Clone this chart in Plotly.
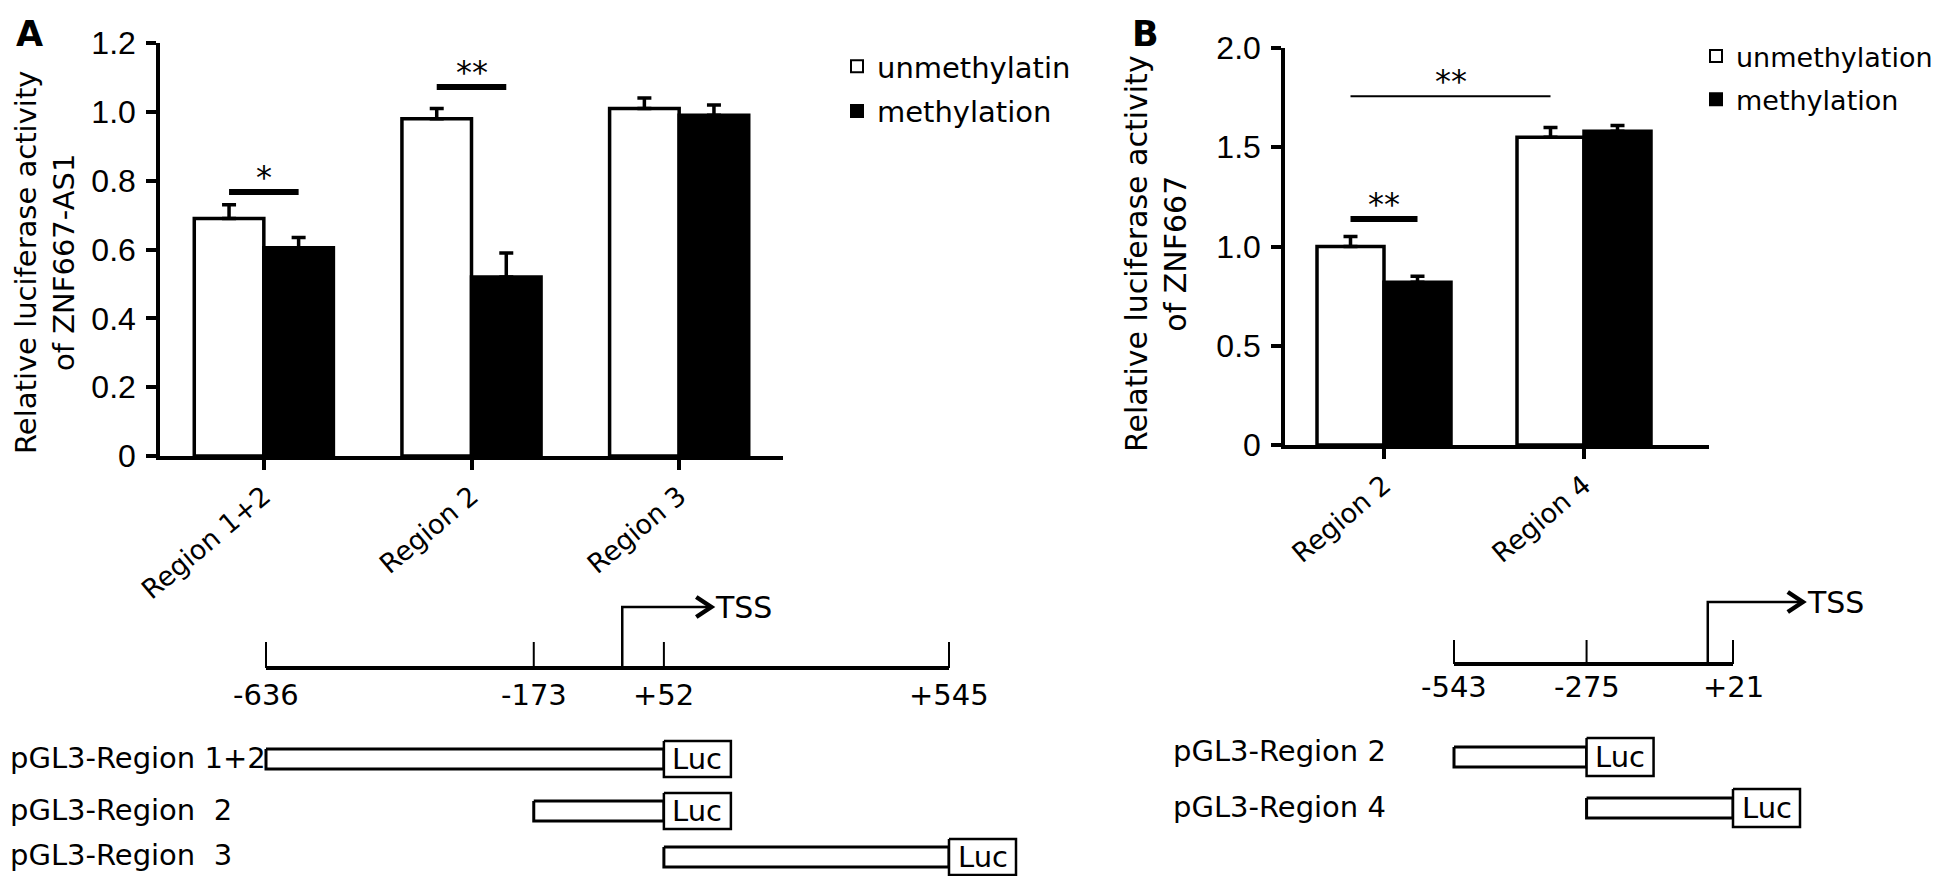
import plotly.graph_objects as go

W, H = 1946, 876

# ---------------- data: panel A (ZNF667-AS1) ----------------
categories_a = ["Region 1+2", "Region 2", "Region 3"]
unmeth_a = [0.69, 0.98, 1.01]
unmeth_a_err = [0.04, 0.03, 0.03]
meth_a = [0.605, 0.52, 0.99]
meth_a_err = [0.03, 0.07, 0.03]
yticks_a = [0, 0.2, 0.4, 0.6, 0.8, 1.0, 1.2]
yticktext_a = ["0", "0.2", "0.4", "0.6", "0.8", "1.0", "1.2"]
# significance brackets: (category, series) -> (category, series)
sig_a_from_cat = [0, 1]
sig_a_from_series = ["u", "u"]
sig_a_to_cat = [0, 1]
sig_a_to_series = ["m", "m"]
sig_a_level = [0.767, 1.072]
sig_a_text = ["*", "**"]

# ---------------- data: panel B (ZNF667) ----------------
categories_b = ["Region 2", "Region 4"]
unmeth_b = [1.0, 1.55]
unmeth_b_err = [0.05, 0.05]
meth_b = [0.82, 1.58]
meth_b_err = [0.03, 0.03]
yticks_b = [0, 0.5, 1.0, 1.5, 2.0]
yticktext_b = ["0", "0.5", "1.0", "1.5", "2.0"]
sig_b_from_cat = [0, 0]
sig_b_from_series = ["u", "u"]
sig_b_to_cat = [0, 1]
sig_b_to_series = ["m", "u"]
sig_b_level = [1.138, 1.757]
sig_b_text = ["**", "**"]

# ---------------- data: promoter diagrams (bp relative to TSS) ----------------
marks_a = [-636, -173, 52, 545]
tss_a = -20
constructs_a_names = ["pGL3-Region 1+2", "pGL3-Region\u00a0 2", "pGL3-Region\u00a0 3"]
constructs_a_start = [-636, -173, 52]
constructs_a_end = [52, 52, 545]

marks_b = [-543, -275, 21]
tss_b = -30
constructs_b_names = ["pGL3-Region 2", "pGL3-Region 4"]
constructs_b_start = [-543, -275]
constructs_b_end = [-275, 21]

# ---------------- styles / layout constants ----------------
FONT = "DejaVu Sans, Verdana, sans-serif"
NUMFONT = "Liberation Sans, Arial, sans-serif"
BLACK = "black"
AXW = 3.5
BARGAP = 0.33
BW = (1 - BARGAP) / 2  # width of one bar in category units


def px(x):
    return x / W


def py(y):
    return 1 - y / H


fig = go.Figure()


def add_bars(xa, ya, cats, u, ue, m, me, names, legend):
    xs = list(range(len(cats)))
    fig.add_trace(go.Bar(
        x=xs, y=u, name=names[0], xaxis=xa, yaxis=ya, legend=legend,
        legendgroup=legend + "u",
        marker=dict(color="white", line=dict(color=BLACK, width=AXW)),
        error_y=dict(type="data", array=ue, arrayminus=[0] * len(u), symmetric=False,
                     color=BLACK, thickness=AXW, width=7),
        hoverinfo="skip"))
    fig.add_trace(go.Bar(
        x=xs, y=m, name=names[1], xaxis=xa, yaxis=ya, legend=legend,
        legendgroup=legend + "m",
        marker=dict(color=BLACK, line=dict(color=BLACK, width=AXW)),
        error_y=dict(type="data", array=me, arrayminus=[0] * len(m), symmetric=False,
                     color=BLACK, thickness=AXW, width=7),
        hoverinfo="skip"))


def bar_center(cat, series):
    return cat - BW / 2 if series == "u" else cat + BW / 2


def add_sig(xa, ya, fc, fs, tc, ts, lev, txt, widths):
    for i in range(len(lev)):
        x0 = bar_center(fc[i], fs[i])
        x1 = bar_center(tc[i], ts[i])
        fig.add_trace(go.Scatter(
            x=[x0, x1], y=[lev[i], lev[i]], mode="lines", xaxis=xa, yaxis=ya,
            line=dict(color=BLACK, width=widths[i]), showlegend=False, hoverinfo="skip"))
        fig.add_annotation(x=(x0 + x1) / 2, y=lev[i], xref=xa, yref=ya, text=txt[i],
                           showarrow=False, xanchor="center", yanchor="bottom", yshift=-6,
                           font=dict(family=FONT, size=32, color=BLACK))


add_bars("x", "y", categories_a, unmeth_a, unmeth_a_err, meth_a, meth_a_err,
         ["unmethylatin", "methylation"], "legend")
add_bars("x2", "y2", categories_b, unmeth_b, unmeth_b_err, meth_b, meth_b_err,
         ["unmethylation", "methylation"], "legend2")
add_sig("x", "y", sig_a_from_cat, sig_a_from_series, sig_a_to_cat, sig_a_to_series,
        sig_a_level, sig_a_text, [6, 6])
add_sig("x2", "y2", sig_b_from_cat, sig_b_from_series, sig_b_to_cat, sig_b_to_series,
        sig_b_level, sig_b_text, [6, 2])

axis_common = dict(showline=True, linecolor=BLACK, linewidth=AXW, ticks="outside",
                   ticklen=10, tickwidth=AXW, tickcolor=BLACK, showgrid=False,
                   zeroline=False, mirror=False, automargin=False)

fig.update_layout(
    xaxis=dict(domain=[px(152), px(775)], range=[-0.5, 2.5], anchor="y",
               tickvals=list(range(len(categories_a))), ticktext=categories_a,
               tickangle=-40, tickfont=dict(family=FONT, size=27, color=BLACK),
               **axis_common),
    yaxis=dict(domain=[py(448), py(35)], range=[0, 1.2], anchor="x",
               tickvals=yticks_a, ticktext=yticktext_a, ticklabelstandoff=4,
               tickfont=dict(family=NUMFONT, size=32, color=BLACK), **axis_common),
    xaxis2=dict(domain=[px(1277), px(1701)], range=[-0.495, 1.625], anchor="y2",
                tickvals=list(range(len(categories_b))), ticktext=categories_b,
                tickangle=-40, tickfont=dict(family=FONT, size=27, color=BLACK),
                **axis_common),
    yaxis2=dict(domain=[py(437), py(40)], range=[0, 2.0], anchor="x2",
                tickvals=yticks_b, ticktext=yticktext_b, ticklabelstandoff=4,
                tickfont=dict(family=NUMFONT, size=32, color=BLACK), **axis_common),
)

# ---------------- promoter diagrams ----------------
# pixel anchors of first/last mark define the bp scale of each diagram
A_PX0, A_PX1 = 258, 941
B_PX0, B_PX1 = 1446, 1725
a_scale = (A_PX1 - A_PX0) / (marks_a[-1] - marks_a[0])
b_scale = (B_PX1 - B_PX0) / (marks_b[-1] - marks_b[0])
a_range = [marks_a[0] - A_PX0 / a_scale, marks_a[0] + (W - A_PX0) / a_scale]
b_range = [marks_b[0] - B_PX0 / b_scale, marks_b[0] + (W - B_PX0) / b_scale]

hidden = dict(visible=False, showgrid=False, zeroline=False, fixedrange=True, automargin=False)
fig.update_layout(
    xaxis3=dict(domain=[0, 1], range=a_range, anchor="y3", **hidden),
    xaxis4=dict(domain=[0, 1], range=b_range, anchor="y3", **hidden),
    yaxis3=dict(domain=[0, 1], range=[H, 0], anchor="x3", **hidden),
)

LUC_W_PX = 67


def draw_diagram(xa, scale, marks, tss, line_y, tick_h, tss_y, arrow_px, label_y,
                 names, starts, ends, rows_y, bar_half, luc_half, name_x_px, names_y):
    kw = dict(xaxis=xa, yaxis="y3", showlegend=False, hoverinfo="skip")
    # main line
    fig.add_trace(go.Scatter(x=[marks[0], marks[-1]], y=[line_y, line_y], mode="lines",
                             line=dict(color=BLACK, width=4), **kw))
    # mark ticks
    tx, ty = [], []
    for m in marks:
        tx += [m, m, None]
        ty += [line_y, line_y - tick_h, None]
    fig.add_trace(go.Scatter(x=tx, y=ty, mode="lines", line=dict(color=BLACK, width=2), **kw))
    for m in marks:
        fig.add_annotation(x=m, y=label_y, xref=xa, yref="y3", text=f"{m:+d}",
                           showarrow=False, xanchor="center", yanchor="middle",
                           font=dict(family=FONT, size=29, color=BLACK))
    # TSS arrow
    tip = tss + arrow_px / scale
    fig.add_trace(go.Scatter(x=[tss, tss, tip], y=[line_y, tss_y, tss_y], mode="lines",
                             line=dict(color=BLACK, width=2.5), **kw))
    back = 15 / scale
    fig.add_trace(go.Scatter(x=[tip - back, tip, tip - back], y=[tss_y - 10, tss_y, tss_y + 10],
                             mode="lines", line=dict(color=BLACK, width=4.5), **kw))
    fig.add_annotation(x=tip, y=tss_y, xref=xa, yref="y3", text="TSS", showarrow=False,
                       xanchor="left", yanchor="middle", xshift=2,
                       font=dict(family=FONT, size=30, color=BLACK))
    # constructs
    bx, by, lx, ly = [], [], [], []
    luc_w = LUC_W_PX / scale
    for s, e, y in zip(starts, ends, rows_y):
        bx += [s, e, e, s, s, None]
        by += [y - bar_half, y - bar_half, y + bar_half, y + bar_half, y - bar_half, None]
        lx += [e, e + luc_w, e + luc_w, e, e, None]
        ly += [y - luc_half, y - luc_half, y + luc_half, y + luc_half, y - luc_half, None]
        fig.add_annotation(x=e + luc_w / 2, y=y, xref=xa, yref="y3", text="Luc",
                           showarrow=False, xanchor="center", yanchor="middle",
                           font=dict(family=FONT, size=29, color=BLACK))
    fig.add_trace(go.Scatter(x=bx, y=by, mode="lines", fill="toself", fillcolor="white",
                             line=dict(color=BLACK, width=3), **kw))
    fig.add_trace(go.Scatter(x=lx, y=ly, mode="lines", fill="toself", fillcolor="white",
                             line=dict(color=BLACK, width=2.5), **kw))
    for n, y in zip(names, names_y):
        fig.add_annotation(x=px(name_x_px), y=py(y), xref="paper", yref="paper", text=n,
                           showarrow=False, xanchor="left", yanchor="middle",
                           font=dict(family=FONT, size=29, color=BLACK))


draw_diagram("x3", a_scale, marks_a, tss_a, 660, 26, 599, 89, 687,
             constructs_a_names, constructs_a_start, constructs_a_end,
             [751, 803, 849], 10, 18, 0, [750, 802, 847])
draw_diagram("x4", b_scale, marks_b, tss_b, 656, 24, 594, 95, 679,
             constructs_b_names, constructs_b_start, constructs_b_end,
             [749, 800], 10, 19, 1163, [743, 799])

# ---------------- titles / panel letters ----------------
fig.add_annotation(x=px(37), y=py(255), xref="paper", yref="paper", textangle=-90,
                   xanchor="center", yanchor="middle",
                   text="Relative luciferase activity<br>of ZNF667-AS1", showarrow=False,
                   font=dict(family=FONT, size=29, color=BLACK))
fig.add_annotation(x=px(1148), y=py(246), xref="paper", yref="paper", textangle=-90,
                   xanchor="center", yanchor="middle",
                   text="Relative luciferase activity<br>of ZNF667", showarrow=False,
                   font=dict(family=FONT, size=30, color=BLACK))
fig.add_annotation(x=px(21), y=py(26), xref="paper", yref="paper", text="<b>A</b>",
                   xanchor="center", yanchor="middle",
                   showarrow=False, font=dict(family=FONT, size=35, color=BLACK))
fig.add_annotation(x=px(1137), y=py(26), xref="paper", yref="paper", text="<b>B</b>",
                   xanchor="center", yanchor="middle",
                   showarrow=False, font=dict(family=FONT, size=35, color=BLACK))

fig.update_layout(
    template="none",
    width=W, height=H, margin=dict(l=0, r=0, t=0, b=0, pad=0, autoexpand=False),
    paper_bgcolor="white", plot_bgcolor="rgba(0,0,0,0)",
    barmode="group", bargap=BARGAP, bargroupgap=0,
    legend=dict(x=px(829), y=py(33), xanchor="left", yanchor="top",
                font=dict(family=FONT, size=29, color=BLACK), bgcolor="rgba(0,0,0,0)",
                borderwidth=0, tracegroupgap=4, itemsizing="constant"),
    legend2=dict(x=px(1688), y=py(24), xanchor="left", yanchor="top",
                 font=dict(family=FONT, size=27, color=BLACK), bgcolor="rgba(0,0,0,0)",
                 borderwidth=0, tracegroupgap=5, itemsizing="constant"),
    font=dict(family=FONT, color=BLACK),
    hovermode=False,
)

fig.write_html("out.html")
